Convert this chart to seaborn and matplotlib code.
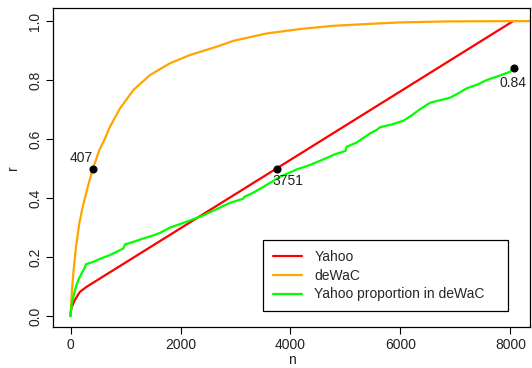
import matplotlib
matplotlib.use("Agg")
import matplotlib.pyplot as plt
import seaborn as sns
import pandas as pd

# ---- data ----
yahoo_n = [0, 5, 20, 80, 170, 290, 8050]
yahoo_r = [0.0, 0.015, 0.03, 0.055, 0.082, 0.099, 1.0]

dewac_n = [0, 9, 27, 51, 100, 160, 222, 313, 407, 524, 615, 718, 900, 1142, 1445,
           1809, 2173, 2688, 2960, 3567, 4173, 4778, 5385, 5991, 6900, 8400]
dewac_r = [0.0, 0.03, 0.088, 0.145, 0.235, 0.314, 0.371, 0.438, 0.50, 0.563, 0.597,
           0.642, 0.704, 0.766, 0.817, 0.857, 0.885, 0.915, 0.933, 0.958, 0.973,
           0.984, 0.990, 0.9955, 0.999, 1.0]

prop_n = [0, 20, 51, 100, 142, 203, 260, 282, 415, 560, 718, 960, 991, 1150, 1324,
          1480, 1627, 1809, 2112, 2400, 2650, 2900, 3142, 3160, 3320, 3506, 3809,
          4112, 4350, 4597, 4800, 5000, 5021, 5200, 5445, 5567, 5627, 5850, 6051,
          6200, 6354, 6536, 6700, 6900, 7050, 7203, 7400, 7567, 7800, 7991, 8060]
prop_r = [0.0, 0.04, 0.065, 0.10, 0.122, 0.145, 0.165, 0.176, 0.184, 0.196, 0.207,
          0.229, 0.243, 0.252, 0.263, 0.272, 0.282, 0.300, 0.320, 0.340, 0.362,
          0.384, 0.398, 0.404, 0.418, 0.438, 0.472, 0.497, 0.512, 0.531, 0.548,
          0.560, 0.574, 0.588, 0.619, 0.631, 0.640, 0.650, 0.662, 0.680, 0.701,
          0.723, 0.731, 0.740, 0.755, 0.772, 0.785, 0.800, 0.815, 0.828, 0.84]

marks_n = [407, 3751, 8060]
marks_r = [0.50, 0.50, 0.84]
marks_label = ["407", "3751", "0.84"]

series_names = ["Yahoo", "deWaC", "Yahoo proportion in deWaC"]
series_colors = ["#FF0000", "#FFA500", "#00FF00"]

x_ticks = [0, 2000, 4000, 6000, 8000]
y_ticks = [0.0, 0.2, 0.4, 0.6, 0.8, 1.0]

# ---- plotting ----
sns.set_style("ticks")
plt.rcParams["font.family"] = ["Liberation Sans", "DejaVu Sans"]

fig = plt.figure(figsize=(5.32, 3.68), dpi=100)
ax = fig.add_axes([0.1002, 0.1122, 0.896, 0.8658])

frames = [
    pd.DataFrame({"n": yahoo_n, "r": yahoo_r}),
    pd.DataFrame({"n": dewac_n, "r": dewac_r}),
    pd.DataFrame({"n": prop_n, "r": prop_r}),
]
for df, name, col in zip(frames, series_names, series_colors):
    sns.lineplot(data=df, x="n", y="r", sort=False, estimator=None, color=col,
                 linewidth=1.6, label=name, ax=ax, clip_on=True)

sns.scatterplot(x=marks_n, y=marks_r, color="black", s=34, edgecolor="black",
                linewidth=0, ax=ax, zorder=5, legend=False)

offsets = [(-8.6, 7.6), (7.7, -8.8), (-0.6, -10.9)]
for xv, yv, lab, off in zip(marks_n, marks_r, marks_label, offsets):
    ax.annotate(lab, (xv, yv), xytext=off, textcoords="offset points",
                ha="center", va="center", fontsize=10, color="#222222")

ax.set_xlim(-313, 8355)
ax.set_ylim(-0.036, 1.044)
ax.set_xticks(x_ticks)
ax.set_xticklabels([str(t) for t in x_ticks])
ax.set_yticks(y_ticks)
ax.set_yticklabels([f"{t:.1f}" for t in y_ticks], rotation=90, va="center")
ax.tick_params(axis="both", direction="out", length=5, width=0.8, labelsize=10,
               color="black", labelcolor="#222222", pad=3)
for s in ax.spines.values():
    s.set_visible(True)
    s.set_color("black")
    s.set_linewidth(0.9)

ax.set_xlabel("n", fontsize=10, labelpad=1, color="#222222")
ax.set_ylabel("r", fontsize=10, labelpad=6, color="#222222")

leg = ax.legend(loc="lower left", bbox_to_anchor=(0.44, 0.049, 0.514, 0.229),
                mode="expand", borderaxespad=0, fancybox=False, shadow=False,
                frameon=True, fontsize=10, handlelength=2.1, handletextpad=0.9,
                labelspacing=0.35, borderpad=0.7)
leg.get_frame().set_edgecolor("black")
leg.get_frame().set_linewidth(0.9)
leg.get_frame().set_alpha(1)

fig.savefig("out.png", dpi=100)
